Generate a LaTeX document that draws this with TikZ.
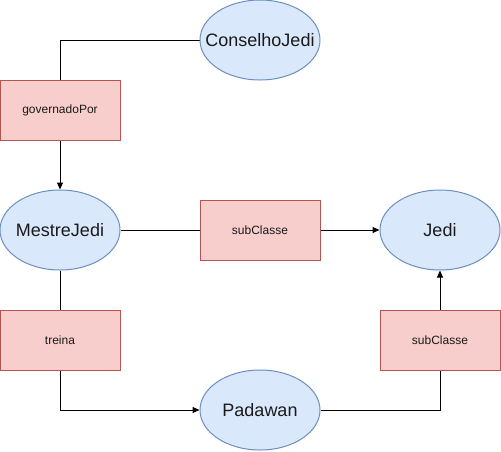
\documentclass[tikz,border=0pt]{standalone}
\usepackage{fontspec}
\setmainfont{Liberation Sans}
\usetikzlibrary{shapes.geometric,arrows.meta,backgrounds}
\definecolor{ellfill}{HTML}{DAE8FC}
\definecolor{elldraw}{HTML}{6C8EBF}
\definecolor{recfill}{HTML}{F8CECC}
\definecolor{recdraw}{HTML}{B85450}
\definecolor{txt}{HTML}{1A1A1A}
\tikzset{
  classnode/.style={ellipse, draw=elldraw, fill=ellfill, line width=1pt, minimum width=120pt, minimum height=80pt, inner sep=0pt, font=\fontsize{18pt}{20pt}\selectfont, text=txt},
  relnode/.style={rectangle, draw=recdraw, fill=recfill, line width=1pt, minimum width=120pt, minimum height=60pt, inner sep=0pt, font=\fontsize{12pt}{14pt}\selectfont, text=txt},
  conn/.style={draw=black, line width=1pt, -{Triangle[length=7pt,width=6pt]}},
}
\begin{document}
\begin{tikzpicture}[x=1pt,y=-1pt]
\useasboundingbox (0,0) rectangle (501,451);
\node[classnode] (cj) at (260,40) {\makebox[0pt]{ConselhoJedi}};
\node[classnode] (mj) at (60,230) {\makebox[0pt]{MestreJedi}};
\node[classnode] (jedi) at (440,230) {\makebox[0pt]{Jedi}};
\node[classnode] (pad) at (260,410) {\makebox[0pt]{Padawan}};
\node[relnode] (gov) at (60,110) {governadoPor};
\node[relnode] (sub1) at (260,230) {subClasse};
\node[relnode] (tre) at (60,340) {treina};
\node[relnode] (sub2) at (440,340) {subClasse};
\begin{scope}[on background layer]
\draw[conn] (cj.west) -| (mj.north);
\draw[conn] (mj.east) -- (jedi.west);
\draw[conn] (mj.south) |- (pad.west);
\draw[conn] (pad.east) -| (jedi.south);
\end{scope}
\end{tikzpicture}
\end{document}
